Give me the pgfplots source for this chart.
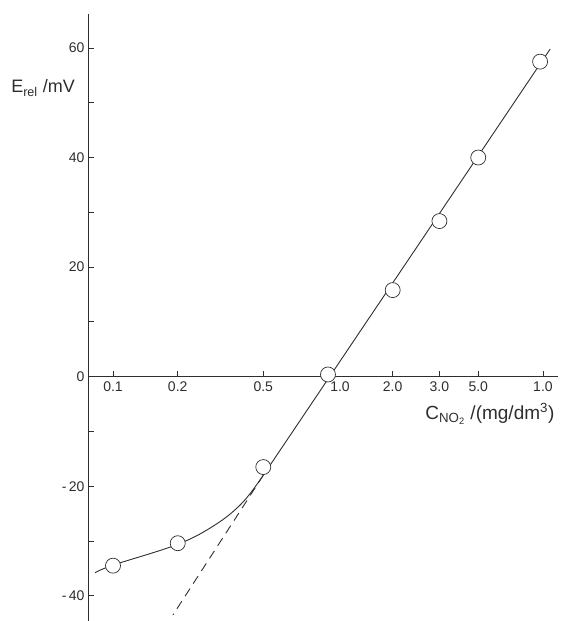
\documentclass[border=0pt]{standalone}
\usepackage{pgfplots}
\pgfplotsset{compat=1.18}
\usepackage{fontspec}
\setmainfont{Liberation Sans}
\definecolor{ink}{gray}{0.18}
\begin{document}
\begin{tikzpicture}
\useasboundingbox (-88pt,0pt) rectangle (473pt,621pt);
\begin{axis}[
  at={(0pt,0pt)}, anchor=south west,
  scale only axis, width=470pt, height=607pt,
  xmode=log, xmin=0.0765, xmax=11.75, ymin=-44.6, ymax=66.2,
  axis x line=middle, axis y line=left,
  axis line style={-, ink, line width=0.9pt},
  xtick={0.1,0.2,0.5,1,2,3.3,5,10},
  xticklabels={0.1,0.2,0.5,\hspace*{24pt}1.0,2.0,3.0,5.0,1.0},
  xminorticks=false,
  ytick={-40,-20,0,20,40,60},
  yticklabels={-\,40,-\,20,0,20,40,60},
  minor ytick={-30,-10,10,30,50},
  major tick length=6pt, minor tick length=6pt,
  xtick align=inside, ytick align=inside,
  every tick/.style={ink, line width=0.9pt},
  tick label style={font=\fontsize{14}{14}\selectfont, text=ink},
  xticklabel style={yshift=-2pt},
  clip mode=individual,
]
% straight solid calibration line
\addplot[ink, line width=0.9pt] coordinates {(0.5,-18) (10.8,59.8)};
% dashed extrapolation
\addplot[ink, line width=0.9pt, dash pattern=on 9pt off 6pt] coordinates {(0.5,-18) (0.19,-43.5)};
% curved low-concentration part
\addplot[ink, line width=0.9pt, smooth, tension=0.6] coordinates {
  (0.0825,-35.8) (0.1,-34.4) (0.2,-30.6) (0.3,-27.0) (0.4,-23.0) (0.5,-18)};
% measured points
\addplot[only marks, mark=*, mark size=7.5pt,
  mark options={fill=white, draw=ink, line width=0.7pt}] coordinates {
  (0.1,-34.5) (0.2,-30.4) (0.5,-16.5) (1,0.4) (2,15.8) (3.3,28.4) (5,40.0) (9.7,57.5)};
\node[font=\fontsize{18}{18}\selectfont, text=ink, anchor=center]
  at (axis description cs:-0.0957,0.878) {E\textsubscript{rel} /mV};
\node[font=\fontsize{19}{19}\selectfont, text=ink, anchor=center]
  at (axis description cs:0.855,0.341) {C\textsubscript{NO\textsubscript{2}} /(mg/dm\textsuperscript{3})};
\end{axis}
\end{tikzpicture}
\end{document}
